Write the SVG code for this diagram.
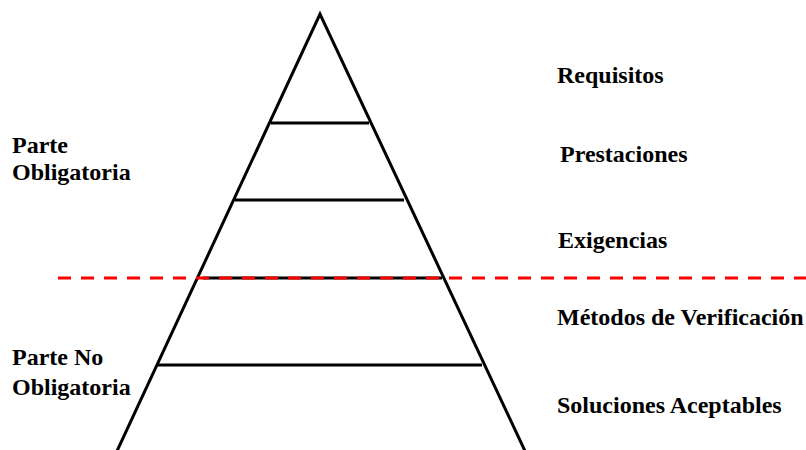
<svg xmlns="http://www.w3.org/2000/svg" width="806" height="450" viewBox="0 0 806 450">
  <style>
    .ln { stroke: #000; stroke-width: 3; fill: none; }
    .lbl { font-family: "Liberation Serif", "Times New Roman", serif; font-weight: bold; font-size: 24px; fill: #000; }
    .div { stroke: #ff0000; stroke-width: 3; stroke-dasharray: 13 10; fill: none; }
  </style>
  <rect width="806" height="450" fill="#fff"/>
  <g id="pyramid">
    <polyline class="ln" points="117,451 320,14 525,451"/>
    <line class="ln" x1="271" y1="123" x2="369" y2="123"/>
    <line class="ln" x1="235" y1="200" x2="404" y2="200"/>
    <line class="ln" x1="203" y1="278" x2="442" y2="278"/>
    <line class="ln" x1="158" y1="365" x2="482" y2="365"/>
  </g>
  <g id="connectors">
    <line class="div" x1="58" y1="278" x2="806" y2="278"/>
  </g>
  <g id="label-requisitos"><text class="lbl" x="557" y="83">Requisitos</text></g>
  <g id="label-prestaciones"><text class="lbl" x="560" y="162">Prestaciones</text></g>
  <g id="label-exigencias"><text class="lbl" x="558" y="248">Exigencias</text></g>
  <g id="label-metodos"><text class="lbl" x="557" y="325">Métodos de Verificación</text></g>
  <g id="label-soluciones"><text class="lbl" x="557" y="413">Soluciones Aceptables</text></g>
  <g id="label-obligatoria"><text class="lbl" x="12" y="153">Parte</text><text class="lbl" x="12" y="180">Obligatoria</text></g>
  <g id="label-no-obligatoria"><text class="lbl" x="12" y="365">Parte No</text><text class="lbl" x="12" y="395">Obligatoria</text></g>
</svg>
